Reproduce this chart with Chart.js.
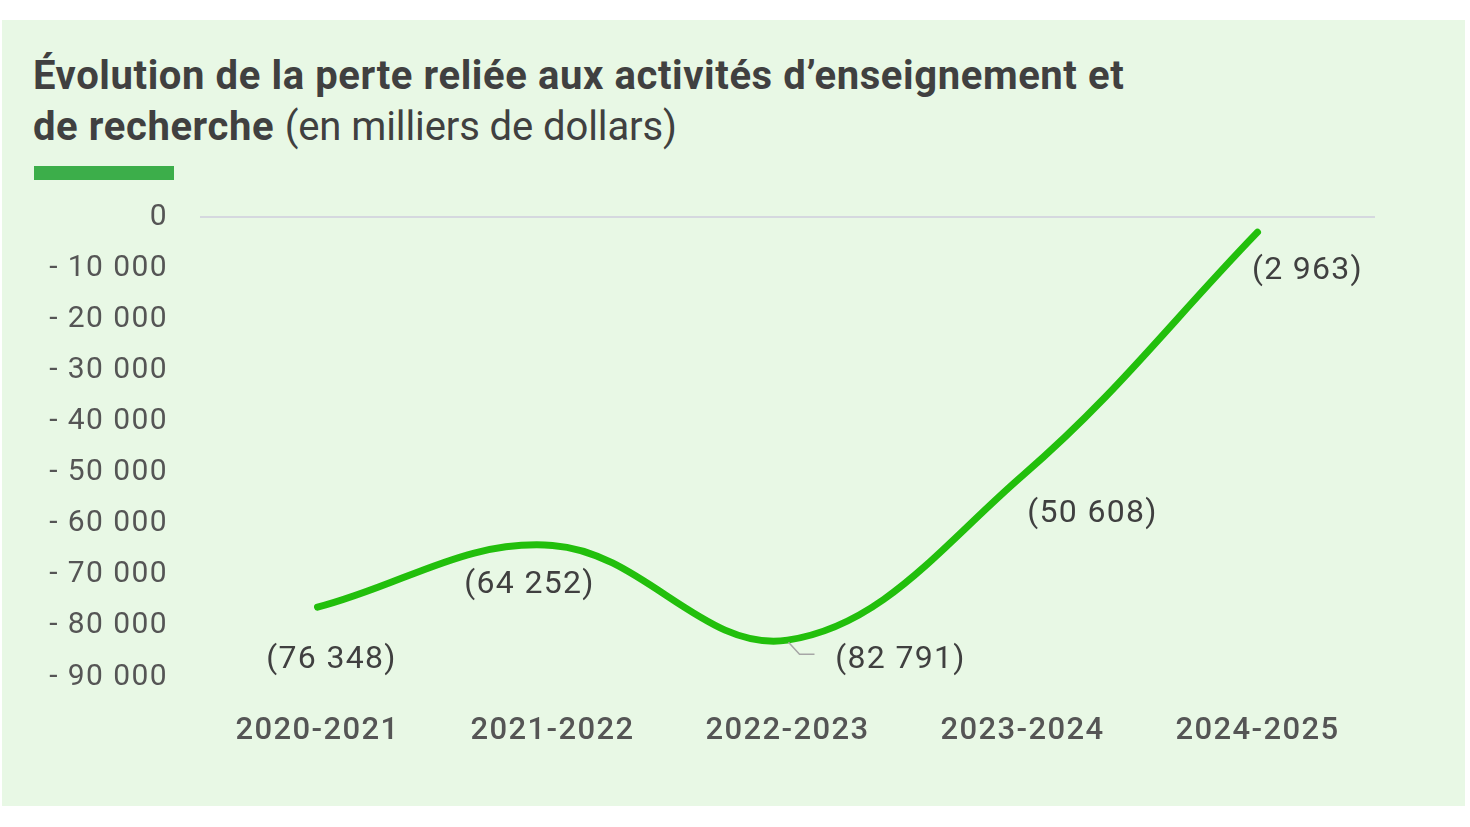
<!DOCTYPE html>
<html lang="fr">
<head>
<meta charset="utf-8">
<script src="https://cdn.jsdelivr.net/npm/chart.js@4.4.1/dist/chart.umd.min.js"></script>
<style>
  html, body { margin: 0; padding: 0; background: #ffffff; }
  body { width: 1470px; height: 827px; position: relative; overflow: hidden; font-family: Roboto, "Open Sans", sans-serif; }
  #panel { position: absolute; left: 2px; top: 20px; width: 1463px; height: 786px; background: #e8f8e5; }
  #title { position: absolute; left: 33px; top: 50px; font-size: 40px; line-height: 51px; color: #404040; font-weight: 700; letter-spacing: 0.6px; white-space: nowrap; }
  #title .unit { font-weight: 400; letter-spacing: -0.1px; }
  #bar { position: absolute; left: 34px; top: 166px; width: 140px; height: 14px; background: #3cae4a; }
  #wrap { position: absolute; left: 0; top: 0; width: 1470px; height: 827px; }
</style>
</head>
<body>
<div id="panel"></div>
<div id="title">Évolution de la perte reliée aux activités d’enseignement et<br>de recherche <span class="unit">(en milliers de dollars)</span></div>
<div id="bar"></div>
<div id="wrap"><canvas id="chart" width="1470" height="827"></canvas></div>
<script>
const categories = ["2020-2021", "2021-2022", "2022-2023", "2023-2024", "2024-2025"];
const lossValues = [-76348, -64252, -82791, -50608, -2963];
const yTickValues = [0, -10000, -20000, -30000, -40000, -50000, -60000, -70000, -80000, -90000];

function groupThousands(n) {
  return String(Math.round(Math.abs(n))).replace(/\B(?=(\d{3})+(?!\d))/g, " ");
}
function tickLabel(v) {
  if (v === 0) return "0";
  return (v < 0 ? "- " : "") + groupThousands(v);
}
function dataLabel(v) {
  return v < 0 ? "(" + groupThousands(v) + ")" : groupThousands(v);
}

const spacingPlugin = {
  id: "textSpacing",
  beforeUpdate(chart) { chart.ctx.letterSpacing = "1.4px"; },
  beforeDraw(chart) { chart.ctx.letterSpacing = "1.4px"; }
};

const labelPlugin = {
  id: "valueLabels",
  afterDatasetsDraw(chart, args, opts) {
    const ctx = chart.ctx;
    const meta = chart.getDatasetMeta(0);
    const offs = opts.offsets;
    ctx.save();
    ctx.letterSpacing = "1.3px";
    ctx.font = "400 32px Roboto, 'Open Sans', sans-serif";
    ctx.fillStyle = "#404040";
    ctx.textAlign = "center";
    ctx.textBaseline = "middle";
    meta.data.forEach((pt, i) => {
      const o = offs[i];
      const lx = pt.x + o[0], ly = pt.y + o[1];
      if (o[2]) {
        ctx.save();
        ctx.strokeStyle = "#a6a6a6";
        ctx.lineWidth = 1.5;
        ctx.beginPath();
        ctx.moveTo(pt.x + 1, pt.y + 2);
        ctx.lineTo(pt.x + 12, pt.y + 14);
        ctx.lineTo(pt.x + 27, pt.y + 14);
        ctx.stroke();
        ctx.restore();
      }
      ctx.fillText(dataLabel(lossValues[i]), lx, ly);
    });
    ctx.restore();
  }
};

new Chart(document.getElementById("chart"), {
  type: "line",
  data: {
    labels: categories,
    datasets: [{
      data: lossValues,
      borderColor: "#22bf0c",
      borderWidth: 7,
      borderCapStyle: "round",
      tension: 0.38,
      pointRadius: 0,
      pointHoverRadius: 0,
      fill: false
    }]
  },
  options: {
    responsive: false,
    animation: false,
    devicePixelRatio: 1,
    layout: { padding: { left: 0, right: 95, top: 217, bottom: 0 } },
    plugins: {
      legend: { display: false },
      tooltip: { enabled: false },
      valueLabels: {
        offsets: [[14, 53, false], [-23, 40, false], [113, 20, true], [70, 38, false], [50, 39, false]]
      }
    },
    scales: {
      x: {
        offset: true,
        grid: { display: false },
        border: { display: false },
        afterFit(scale) { scale.height = 150; },
        ticks: {
          color: "#555555",
          padding: 28,
          font: { family: "Roboto, 'Open Sans', sans-serif", size: 31, weight: "500" }
        }
      },
      y: {
        min: -90000,
        max: 0,
        afterFit(scale) { scale.width = 200; },
        afterBuildTicks(scale) { scale.ticks = yTickValues.map(v => ({ value: v })); },
        border: { display: false },
        grid: {
          drawTicks: false,
          lineWidth: 2,
          color: (c) => (c.tick && c.tick.value === 0 ? "#d5d8df" : "rgba(0,0,0,0)")
        },
        ticks: {
          color: "#555555",
          padding: 32,
          font: { family: "Roboto, 'Open Sans', sans-serif", size: 30, weight: "400" },
          callback: (v) => tickLabel(v)
        }
      }
    }
  },
  plugins: [spacingPlugin, labelPlugin]
});
</script>
</body>
</html>
